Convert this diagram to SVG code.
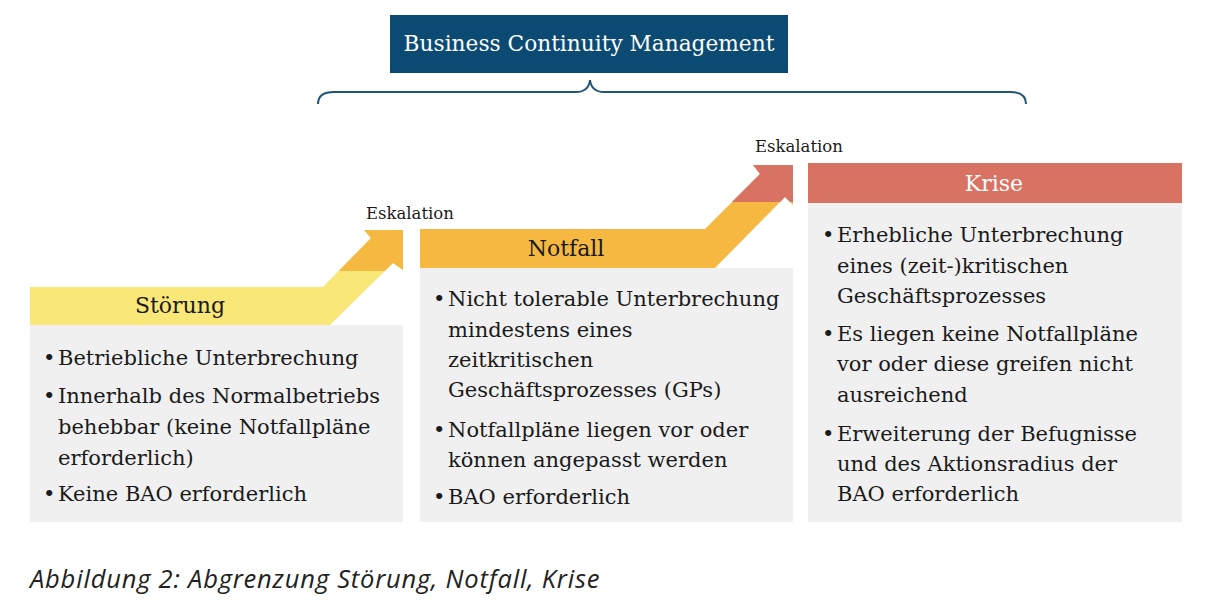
<svg xmlns="http://www.w3.org/2000/svg" width="1208" height="616" viewBox="0 0 1208 616">
<style>
.t{font-family:"DejaVu Serif","Liberation Serif",serif;font-size:21px;fill:#1a1a1a}
.h{font-family:"DejaVu Serif","Liberation Serif",serif;font-size:22px;fill:#1a1a1a;text-anchor:middle}
.e{font-family:"DejaVu Serif","Liberation Serif",serif;font-size:16.5px;fill:#1a1a1a}
.box{fill:#f0f0f0}
</style>
<defs>
<clipPath id="cAbove1"><rect x="0" y="0" width="1208" height="271"/></clipPath>
<clipPath id="cAbove2"><rect x="0" y="0" width="1208" height="202"/></clipPath>
</defs>
<rect width="1208" height="616" fill="#ffffff"/>

<g id="bcm">
<rect x="390" y="15" width="398" height="58" fill="#0b4a73"/>
<text x="589" y="51" text-anchor="middle" style="font-family:'DejaVu Serif','Liberation Serif',serif;font-size:21.7px;fill:#ffffff">Business Continuity Management</text>
</g>

<g id="connectors">
<path id="brace" d="M318,104 C318,96 324,92 334,92 L576,92 C585,92 589,88 590,80 C591,88 595,92 604,92 L1010,92 C1020,92 1026,96 1026,104" fill="none" stroke="#1f5378" stroke-width="2"/>
<g id="arrow1">
<path d="M364,230 L403,230 L403,270 L393,263 L330,325 L30,325 L30,287 L323,287 L371,238 Z" fill="#f9e777"/>
<path d="M364,230 L403,230 L403,270 L393,263 L330,325 L30,325 L30,287 L323,287 L371,238 Z" fill="#f5b942" clip-path="url(#cAbove1)"/>
</g>
<g id="arrow2">
<path d="M753,165 L793,165 L793,205 L785,197 L715,268 L420,268 L420,229 L705,229 L760,174 Z" fill="#f5b942"/>
<path d="M753,165 L793,165 L793,205 L785,197 L715,268 L420,268 L420,229 L705,229 L760,174 Z" fill="#d87363" clip-path="url(#cAbove2)"/>
</g>
<text class="e" x="366" y="219">Eskalation</text>
<text class="e" x="755" y="152">Eskalation</text>
</g>

<g id="stoerung">
<rect class="box" x="30" y="325" width="373" height="197"/>
<text class="h" x="180" y="313">Störung</text>
<text class="t" x="43" y="365">•</text><text class="t" x="58" y="365">Betriebliche Unterbrechung</text>
<text class="t" x="43" y="403">•</text><text class="t" x="58" y="403">Innerhalb des Normalbetriebs</text>
<text class="t" x="58" y="434">behebbar (keine Notfallpläne</text>
<text class="t" x="58" y="465">erforderlich)</text>
<text class="t" x="43" y="501">•</text><text class="t" x="58" y="501">Keine BAO erforderlich</text>
</g>

<g id="notfall">
<rect class="box" x="420" y="268" width="373" height="254"/>
<text class="h" x="566" y="256">Notfall</text>
<text class="t" x="433" y="306">•</text><text class="t" x="448" y="306">Nicht tolerable Unterbrechung</text>
<text class="t" x="448" y="337">mindestens eines</text>
<text class="t" x="448" y="367">zeitkritischen</text>
<text class="t" x="448" y="397">Geschäftsprozesses (GPs)</text>
<text class="t" x="433" y="437">•</text><text class="t" x="448" y="437">Notfallpläne liegen vor oder</text>
<text class="t" x="448" y="467">können angepasst werden</text>
<text class="t" x="433" y="504">•</text><text class="t" x="448" y="504">BAO erforderlich</text>
</g>

<g id="krise">
<rect x="808" y="163" width="374" height="40" fill="#d87363"/>
<rect class="box" x="808" y="203" width="374" height="319"/>
<text class="h" x="994" y="191" style="fill:#ffffff">Krise</text>
<text class="t" x="822" y="242">•</text><text class="t" x="837" y="242">Erhebliche Unterbrechung</text>
<text class="t" x="837" y="273">eines (zeit-)kritischen</text>
<text class="t" x="837" y="303">Geschäftsprozesses</text>
<text class="t" x="822" y="341">•</text><text class="t" x="837" y="341">Es liegen keine Notfallpläne</text>
<text class="t" x="837" y="371">vor oder diese greifen nicht</text>
<text class="t" x="837" y="402">ausreichend</text>
<text class="t" x="822" y="441">•</text><text class="t" x="837" y="441">Erweiterung der Befugnisse</text>
<text class="t" x="837" y="471">und des Aktionsradius der</text>
<text class="t" x="837" y="501">BAO erforderlich</text>
</g>

<text id="caption" x="30" y="588" style="font-family:'Open Sans','Noto Sans',sans-serif;font-style:italic;font-size:25.5px;letter-spacing:0.8px;fill:#222222">Abbildung 2: Abgrenzung Störung, Notfall, Krise</text>
</svg>
